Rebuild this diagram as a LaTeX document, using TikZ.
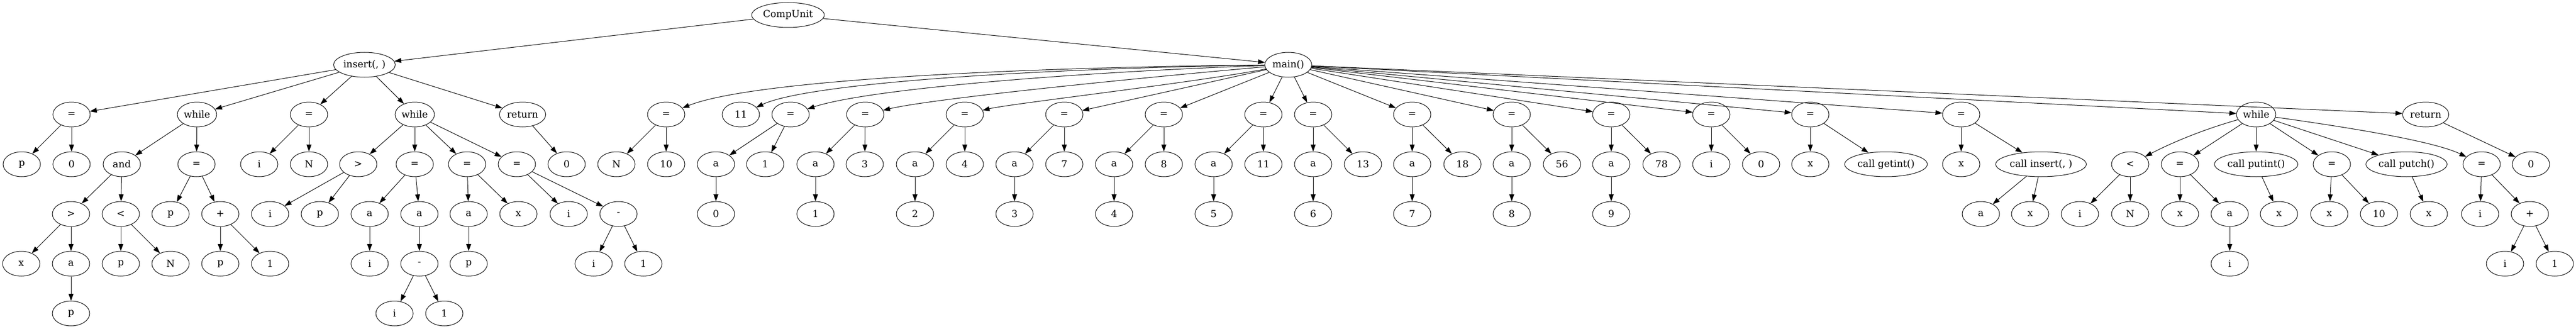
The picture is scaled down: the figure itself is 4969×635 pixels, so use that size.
\documentclass[tikz,border=0pt]{standalone}
\usepackage{fontspec}
\setmainfont{DejaVu Serif}
\usetikzlibrary{calc, shapes.geometric, arrows.meta}

\begin{document}
\begin{tikzpicture}[x=0.75pt, y=-0.75pt]

    \tikzstyle{state}=[ellipse, draw=black, line width=0.75pt, minimum width=54pt, minimum height=36pt, inner sep=1pt, font=\fontsize{14pt}{17pt}\selectfont];
    \tikzstyle{link}=[-{Triangle[length=10pt, width=7pt]}, line width=0.75pt];

    \useasboundingbox (0,0) rectangle (4969,635);

    \node (cu) at (1520,29) [state] {CompUnit};
    \node (ins) at (703,125) [state] {insert(, )};
    \node (main) at (2485,125) [state] {main()};

    \node (asg1) at (138,221) [state] {=};
    \node (wh1) at (380,221) [state] {while};
    \node (asg2) at (596,221) [state] {=};
    \node (wh2) at (800,221) [state] {while};
    \node (ret1) at (1008,221) [state] {return};

    \node (asg1p) at (42,317) [state] {p};
    \node (asg1z) at ($(asg1)+(0,96)$) [state] {0};
    \node (and1) at (235,317) [state] {and};
    \node (asg3) at (379,317) [state] {=};
    \node (asg2i) at (500,317) [state] {i};
    \node (asg2n) at ($(asg2)+(0,96)$) [state] {N};
    \node (gt2) at (691,317) [state] {>};
    \node (asg4) at ($(wh2)+(0,96)$) [state] {=};
    \node (asg5) at (901,317) [state] {=};
    \node (asg6) at (997,317) [state] {=};
    \node (ret1z) at (1093,317) [state] {0};

    \node (gt1) at (137,413) [state] {>};
    \node (lt1) at (233,413) [state] {<};
    \node (asg3p) at (329,413) [state] {p};
    \node (plus1) at (425,413) [state] {+};
    \node (gt2i) at (521,413) [state] {i};
    \node (gt2p) at (617,413) [state] {p};
    \node (asg4a) at (713,413) [state] {a};
    \node (asg4b) at (809,413) [state] {a};
    \node (asg5a) at (904,413) [state] {a};
    \node (asg5x) at (1000,413) [state] {x};
    \node (asg6i) at (1097,413) [state] {i};
    \node (min2) at (1193,413) [state] {-};

    \node (gt1x) at (41,509) [state] {x};
    \node (gt1a) at ($(gt1)+(0,96)$) [state] {a};
    \node (lt1p) at ($(lt1)+(0,96)$) [state] {p};
    \node (lt1n) at (329,509) [state] {N};
    \node (plus1p) at ($(plus1)+(0,96)$) [state] {p};
    \node (plus1o) at (521,509) [state] {1};
    \node (asg4ai) at ($(asg4a)+(0,96)$) [state] {i};
    \node (min1) at ($(asg4b)+(0,96)$) [state] {-};
    \node (asg5ap) at ($(asg5a)+(0,96)$) [state] {p};
    \node (min2i) at (1145,509) [state] {i};
    \node (min2o) at (1241,509) [state] {1};

    \node (gt1ap) at ($(gt1a)+(0,96)$) [state] {p};
    \node (min1i) at (761,605) [state] {i};
    \node (min1o) at (857,605) [state] {1};

    \node (m1) at (1285,221) [state] {=};
    \node (m2) at (1429,221) [state] {11};
    \node (m3) at (1525,221) [state] {=};
    \node (m4) at (1669,221) [state] {=};
    \node (m5) at (1861,221) [state] {=};
    \node (m6) at (2053,221) [state] {=};
    \node (m7) at (2245,221) [state] {=};
    \node (m8) at (2437,221) [state] {=};
    \node (m9) at (2533,221) [state] {=};
    \node (m10) at (2724,221) [state] {=};
    \node (m11) at (2916,221) [state] {=};
    \node (m12) at (3108,221) [state] {=};
    \node (m13) at (3301,221) [state] {=};
    \node (m14) at (3492,221) [state] {=};
    \node (m15) at (3783,221) [state] {=};
    \node (mw) at (4352,221) [state] {while};
    \node (mr) at (4679,221) [state] {return};

    \node (m1a) at (1189,317) [state] {N};
    \node (m1b) at (1285,317) [state] {10};
    \node (m3a) at (1381,317) [state] {a};
    \node (m3b) at (1476,317) [state] {1};
    \node (m4a) at (1573,317) [state] {a};
    \node (m4b) at (1668,317) [state] {3};
    \node (m5a) at (1765,317) [state] {a};
    \node (m5b) at (1861,317) [state] {4};
    \node (m6a) at (1957,317) [state] {a};
    \node (m6b) at (2053,317) [state] {7};
    \node (m7a) at (2149,317) [state] {a};
    \node (m7b) at (2245,317) [state] {8};
    \node (m8a) at (2341,317) [state] {a};
    \node (m8b) at (2437,317) [state] {11};
    \node (m9a) at (2533,317) [state] {a};
    \node (m9b) at (2629,317) [state] {13};
    \node (m10a) at (2724,317) [state] {a};
    \node (m10b) at (2821,317) [state] {18};
    \node (m11a) at (2916,317) [state] {a};
    \node (m11b) at (3013,317) [state] {56};
    \node (m12a) at (3108,317) [state] {a};
    \node (m12b) at (3205,317) [state] {78};
    \node (m13a) at (3301,317) [state] {i};
    \node (m13b) at (3397,317) [state] {0};
    \node (m14a) at (3492,317) [state] {x};
    \node (m14b) at (3638,317) [state] {call getint()};
    \node (m15a) at (3783,317) [state] {x};
    \node (m15b) at (3937,317) [state] {call insert(, )};
    \node (wlt) at (4109,317) [state] {<};
    \node (wasg1) at (4205,317) [state] {=};
    \node (wput) at ($(mw)+(0,96)$) [state] {call putint()};
    \node (wasg2) at (4498,317) [state] {=};
    \node (wpch) at (4642,317) [state] {call putch()};
    \node (wasg3) at (4787,317) [state] {=};
    \node (mrz) at (4882,317) [state] {0};

    \node (m3i) at ($(m3a)+(0,96)$) [state] {0};
    \node (m4i) at ($(m4a)+(0,96)$) [state] {1};
    \node (m5i) at ($(m5a)+(0,96)$) [state] {2};
    \node (m6i) at ($(m6a)+(0,96)$) [state] {3};
    \node (m7i) at ($(m7a)+(0,96)$) [state] {4};
    \node (m8i) at ($(m8a)+(0,96)$) [state] {5};
    \node (m9i) at ($(m9a)+(0,96)$) [state] {6};
    \node (m10i) at ($(m10a)+(0,96)$) [state] {7};
    \node (m11i) at ($(m11a)+(0,96)$) [state] {8};
    \node (m12i) at ($(m12a)+(0,96)$) [state] {9};
    \node (m15c) at (3821,413) [state] {a};
    \node (m15d) at (3916,413) [state] {x};
    \node (wlti) at (4012,413) [state] {i};
    \node (wltn) at ($(wlt)+(0,96)$) [state] {N};
    \node (wasg1x) at ($(wasg1)+(0,96)$) [state] {x};
    \node (wasg1a) at (4301,413) [state] {a};
    \node (wputx) at (4396,413) [state] {x};
    \node (wasg2x) at (4493,413) [state] {x};
    \node (wasg2t) at (4589,413) [state] {10};
    \node (wpchx) at (4685,413) [state] {x};
    \node (wasg3i) at (4784,413) [state] {i};
    \node (wplus) at (4880,413) [state] {+};

    \node (wasg1ai) at ($(wasg1a)+(0,96)$) [state] {i};
    \node (wplusi) at (4832,509) [state] {i};
    \node (wpluso) at (4928,509) [state] {1};

    \draw (cu) edge[link] (ins) edge[link] (main);

    \draw (ins) edge[link] (asg1) edge[link] (wh1) edge[link] (asg2) edge[link] (wh2) edge[link] (ret1);
    \draw (asg1) edge[link] (asg1p) edge[link] (asg1z);
    \draw (wh1) edge[link] (and1) edge[link] (asg3);
    \draw (and1) edge[link] (gt1) edge[link] (lt1);
    \draw (gt1) edge[link] (gt1x) edge[link] (gt1a);
    \draw (gt1a) edge[link] (gt1ap);
    \draw (lt1) edge[link] (lt1p) edge[link] (lt1n);
    \draw (asg3) edge[link] (asg3p) edge[link] (plus1);
    \draw (plus1) edge[link] (plus1p) edge[link] (plus1o);
    \draw (asg2) edge[link] (asg2i) edge[link] (asg2n);
    \draw (wh2) edge[link] (gt2) edge[link] (asg4) edge[link] (asg5) edge[link] (asg6);
    \draw (gt2) edge[link] (gt2i) edge[link] (gt2p);
    \draw (asg4) edge[link] (asg4a) edge[link] (asg4b);
    \draw (asg4a) edge[link] (asg4ai);
    \draw (asg4b) edge[link] (min1);
    \draw (min1) edge[link] (min1i) edge[link] (min1o);
    \draw (asg5) edge[link] (asg5a) edge[link] (asg5x);
    \draw (asg5a) edge[link] (asg5ap);
    \draw (asg6) edge[link] (asg6i) edge[link] (min2);
    \draw (min2) edge[link] (min2i) edge[link] (min2o);
    \draw (ret1) edge[link] (ret1z);

    \draw[link] (main) .. controls (1950,130) and (1450,155) .. (m1);
    \draw[link] (main) .. controls (2000,132) and (1560,160) .. (m2);
    \draw[link] (main) .. controls (2100,138) and (1680,170) .. (m3);
    \draw[link] (main) .. controls (2200,150) and (1800,190) .. (m4);
    \draw[link] (main) .. controls (2300,160) and (1950,200) .. (m5);
    \draw (main) edge[link] (m6) edge[link] (m7) edge[link] (m8) edge[link] (m9);
    \draw (main) edge[link] (m10) edge[link] (m11) edge[link] (m12) edge[link] (m13) edge[link] (m14) edge[link] (m15) edge[link] (mw) edge[link] (mr);
    \draw (m1) edge[link] (m1a) edge[link] (m1b);
    \draw (m3) edge[link] (m3a) edge[link] (m3b);
    \draw (m4) edge[link] (m4a) edge[link] (m4b);
    \draw (m5) edge[link] (m5a) edge[link] (m5b);
    \draw (m6) edge[link] (m6a) edge[link] (m6b);
    \draw (m7) edge[link] (m7a) edge[link] (m7b);
    \draw (m8) edge[link] (m8a) edge[link] (m8b);
    \draw (m9) edge[link] (m9a) edge[link] (m9b);
    \draw (m10) edge[link] (m10a) edge[link] (m10b);
    \draw (m11) edge[link] (m11a) edge[link] (m11b);
    \draw (m12) edge[link] (m12a) edge[link] (m12b);
    \draw (m3a) edge[link] (m3i);
    \draw (m4a) edge[link] (m4i);
    \draw (m5a) edge[link] (m5i);
    \draw (m6a) edge[link] (m6i);
    \draw (m7a) edge[link] (m7i);
    \draw (m8a) edge[link] (m8i);
    \draw (m9a) edge[link] (m9i);
    \draw (m10a) edge[link] (m10i);
    \draw (m11a) edge[link] (m11i);
    \draw (m12a) edge[link] (m12i);
    \draw (m13) edge[link] (m13a) edge[link] (m13b);
    \draw (m14) edge[link] (m14a) edge[link] (m14b);
    \draw (m15) edge[link] (m15a) edge[link] (m15b);
    \draw (m15b) edge[link] (m15c) edge[link] (m15d);
    \draw[link] (mw) .. controls (4250,250) and (4190,275) .. (wlt);
    \draw (mw) edge[link] (wasg1) edge[link] (wput) edge[link] (wasg2) edge[link] (wpch);
    \draw[link] (mw) .. controls (4560,250) and (4700,275) .. (wasg3);
    \draw (wlt) edge[link] (wlti) edge[link] (wltn);
    \draw (wasg1) edge[link] (wasg1x) edge[link] (wasg1a);
    \draw (wasg1a) edge[link] (wasg1ai);
    \draw (wput) edge[link] (wputx);
    \draw (wasg2) edge[link] (wasg2x) edge[link] (wasg2t);
    \draw (wpch) edge[link] (wpchx);
    \draw (wasg3) edge[link] (wasg3i) edge[link] (wplus);
    \draw (wplus) edge[link] (wplusi) edge[link] (wpluso);
    \draw (mr) edge[link] (mrz);
\end{tikzpicture}
\end{document}
